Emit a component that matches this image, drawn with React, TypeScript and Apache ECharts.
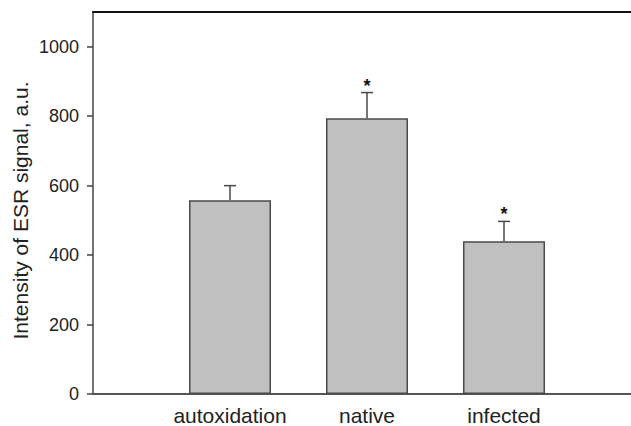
import React, { useEffect, useRef } from "react";
import * as echarts from "echarts";

const categories = ["autoxidation", "native", "infected"];
const means = [558, 794, 440];
const errors = [42, 74, 57];
const significance = ["", "*", "*"];
const yTicks = [0, 200, 400, 600, 800, 1000];
const yTitle = "Intensity of ESR signal, a.u.";

const FONT = "'Liberation Sans', Arial, Helvetica, sans-serif";

export default function App() {
  const ref = useRef<HTMLDivElement>(null);
  useEffect(() => {
    if (!ref.current) return;
    const chart = echarts.init(ref.current, null, { renderer: "svg" });
    const xData = ["", ...categories, ""];
    const barData = ["-", ...means, "-"];
    const errData = categories.map((c, i) => [i + 1, means[i], means[i] + errors[i], i]);
    chart.setOption({
      animation: false,
      backgroundColor: "#ffffff",
      grid: {
        left: 93,
        right: -10,
        top: 12,
        bottom: 32,
        outerBoundsMode: "none",
        containLabel: false,
        show: false,
      },
      graphic: [
        {
          type: "text",
          x: 20.5,
          y: 210.5,
          rotation: Math.PI / 2,
          style: {
            text: yTitle,
            font: `21px ${FONT}`,
            fill: "#222",
            textAlign: "center",
            textVerticalAlign: "middle",
          },
        },
      ],
      xAxis: [
        {
          type: "category",
          data: xData,
          boundaryGap: false,
          axisLine: { show: true, lineStyle: { color: "#555", width: 2 } },
          axisTick: { show: false },
          splitLine: { show: false },
          axisLabel: {
            interval: 0,
            margin: 11,
            fontSize: 21,
            fontFamily: FONT,
            color: "#222",
          },
        },
        {
          type: "category",
          data: xData,
          position: "top",
          boundaryGap: false,
          axisLine: { show: true, lineStyle: { color: "#111", width: 2 } },
          axisTick: { show: false },
          axisLabel: { show: false },
          splitLine: { show: false },
        },
      ],
      yAxis: {
        type: "value",
        min: 0,
        max: 1100,
        interval: 100,
        splitLine: { show: false },
        axisLine: { show: true, lineStyle: { color: "#444", width: 1.5 } },
        axisTick: {
          show: true,
          length: 6,
          customValues: yTicks,
          lineStyle: { color: "#444", width: 1.5 },
        },
        axisLabel: {
          customValues: yTicks,
          formatter: (v: number) => String(v),
          margin: 14,
          fontSize: 18,
          fontFamily: FONT,
          color: "#222",
        },
      },
      series: [
        {
          type: "bar",
          data: barData,
          barWidth: 82,
          itemStyle: { color: "#c0c0c0", borderColor: "#4a4a4a", borderWidth: 1.5 },
          z: 2,
        },
        {
          type: "custom",
          data: errData,
          z: 3,
          renderItem: (params: any, api: any) => {
            const x = api.value(0);
            const lo = api.coord([x, api.value(1)]);
            const hi = api.coord([x, api.value(2)]);
            const idx = api.value(3);
            const half = 6;
            const style = { stroke: "#4a4a4a", lineWidth: 1.5 };
            const children: any[] = [
              { type: "line", shape: { x1: lo[0], y1: lo[1], x2: hi[0], y2: hi[1] }, style },
              { type: "line", shape: { x1: hi[0] - half, y1: hi[1], x2: hi[0] + half, y2: hi[1] }, style },
            ];
            if (significance[idx]) {
              children.push({
                type: "text",
                x: hi[0],
                y: hi[1] - 7,
                style: {
                  text: significance[idx],
                  font: `bold 18px ${FONT}`,
                  fill: "#111",
                  textAlign: "center",
                  textVerticalAlign: "middle",
                },
              });
            }
            return { type: "group", children };
          },
        },
      ],
    });
    return () => chart.dispose();
  }, []);
  return (
    <div
      ref={ref}
      style={{ position: "fixed", left: 0, top: 0, width: 631, height: 426, overflow: "hidden" }}
    />
  );
}
